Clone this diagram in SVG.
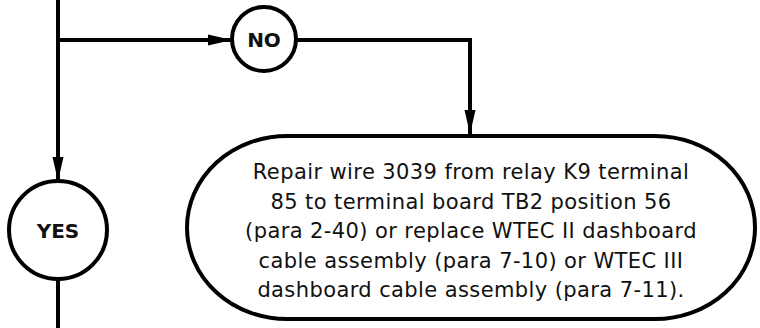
<svg xmlns="http://www.w3.org/2000/svg" width="760" height="328" viewBox="0 0 760 328">
<style>
.ln{fill:none;stroke:#000;stroke-width:4}
.nd{fill:#fff;stroke:#000;stroke-width:4}
.lbl{font-family:"DejaVu Sans",Verdana,sans-serif;font-weight:bold;font-size:20px;fill:#111;text-anchor:middle}
.txt{font-family:"DejaVu Sans",Verdana,sans-serif;font-size:21px;letter-spacing:0.4px;fill:#111;text-anchor:middle}
</style>
<defs>
<marker id="ah" markerUnits="userSpaceOnUse" markerWidth="24" markerHeight="12" refX="24" refY="6" orient="auto">
<path d="M0,0.5 L24,6 L0,11.5 z" fill="#000"/>
</marker>
</defs>
<g id="connectors">
<path class="ln" d="M58,0 V181" marker-end="url(#ah)"/>
<path class="ln" d="M58,40 H232" marker-end="url(#ah)"/>
<path class="ln" d="M296,40 H470 V134" marker-end="url(#ah)"/>
<path class="ln" d="M58,279 V328"/>
</g>
<g id="no">
<circle class="nd" cx="264" cy="39" r="32"/>
<text class="lbl" x="264" y="46.5">NO</text>
</g>
<g id="yes">
<circle class="nd" cx="58" cy="230" r="49"/>
<text class="lbl" x="58" y="238">YES</text>
</g>
<g id="repair">
<rect class="nd" x="187" y="136" width="568" height="183" rx="100" ry="91.5"/>
<text class="txt" x="471" y="179">Repair wire 3039 from relay K9 terminal</text>
<text class="txt" x="471" y="208.5">85 to terminal board TB2 position 56</text>
<text class="txt" x="471" y="238">(para 2-40) or replace WTEC II dashboard</text>
<text class="txt" x="471" y="267.5">cable assembly (para 7-10) or WTEC III</text>
<text class="txt" x="471" y="297">dashboard cable assembly (para 7-11).</text>
</g>
</svg>
